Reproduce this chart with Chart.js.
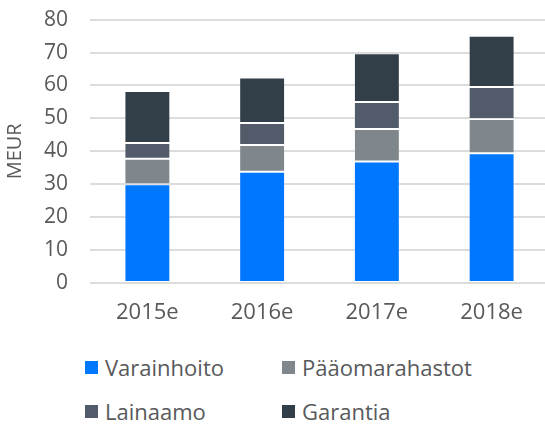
<!DOCTYPE html>
<html>
<head>
<meta charset="utf-8">
<script src="https://cdn.jsdelivr.net/npm/chart.js@4"></script>
<style>
  html, body { margin:0; padding:0; background:#fff; overflow:hidden; width:545px; height:424px; }
  #wrap { position:absolute; left:0; top:-15px; width:549px; height:355px; }
  .leg { position:absolute; font-family: "Open Sans", sans-serif; font-size:22px; color:#58595b; line-height:26px; white-space:nowrap; }
  .leg span.box { position:absolute; left:0; top:7px; width:13px; height:13px; }
  .leg span.txt { position:absolute; left:20px; top:0; }
</style>
</head>
<body>
<div id="wrap"><canvas id="c"></canvas></div>
<div id="legend"></div>
<script>
const categories = ["2015e", "2016e", "2017e", "2018e"];
const varainhoito = [30.0, 33.8, 36.9, 39.4];
const paaomarahastot = [7.7, 8.1, 9.9, 10.4];
const lainaamo = [4.8, 6.7, 8.2, 9.7];
const garantia = [15.8, 13.8, 14.8, 15.6];
const yTicks = [0, 10, 20, 30, 40, 50, 60, 70, 80];

const seriesNames = ["Varainhoito", "Pääomarahastot", "Lainaamo", "Garantia"];
const seriesColors = ["#0077ff", "#7f878c", "#525b69", "#333f48"];
const seriesData = [varainhoito, paaomarahastot, lainaamo, garantia];

const font = "'Open Sans', sans-serif";
const textColor = "#58595b";

new Chart(document.getElementById("c"), {
  type: "bar",
  data: {
    labels: categories,
    datasets: seriesNames.map((n, i) => ({
      label: n,
      data: seriesData[i],
      backgroundColor: seriesColors[i],
      borderColor: "rgba(255,255,255,0.18)",
      borderWidth: 1,
      borderSkipped: false,
      categoryPercentage: 1.0,
      barPercentage: 0.4
    }))
  },
  options: {
    responsive: true,
    maintainAspectRatio: false,
    animation: false,
    layout: { padding: { top: 5, right: 0, left: 0, bottom: 0 } },
    plugins: { legend: { display: false }, tooltip: { enabled: false } },
    scales: {
      x: {
        stacked: true,
        grid: { display: false, drawTicks: false },
        border: { display: false },
        ticks: { color: textColor, font: { family: font, size: 22 }, padding: 17 },
        afterFit: s => { s.height = 57; }
      },
      y: {
        stacked: true,
        min: 0, max: 80,
        afterBuildTicks: s => { s.ticks = yTicks.map(v => ({ value: v })); },
        grid: { color: "#dcdcdc", lineWidth: 2, drawTicks: false },
        border: { display: false },
        ticks: { color: textColor, font: { family: font, size: 21 }, padding: 22 },
        title: { display: true, text: "MEUR", color: textColor, font: { family: font, size: 20 }, padding: { top: 3, bottom: 0 } },
        afterFit: s => { s.width = 90; }
      }
    }
  }
});

// HTML legend in a 2x2 grid
const legPos = [[85, 354], [282, 354], [85, 398], [282, 398]];
const legend = document.getElementById("legend");
seriesNames.forEach((n, i) => {
  const d = document.createElement("div");
  d.className = "leg";
  d.style.left = legPos[i][0] + "px";
  d.style.top = legPos[i][1] + "px";
  d.innerHTML = '<span class="box" style="background:' + seriesColors[i] + '"></span><span class="txt">' + n + '</span>';
  legend.appendChild(d);
});
</script>
</body>
</html>
